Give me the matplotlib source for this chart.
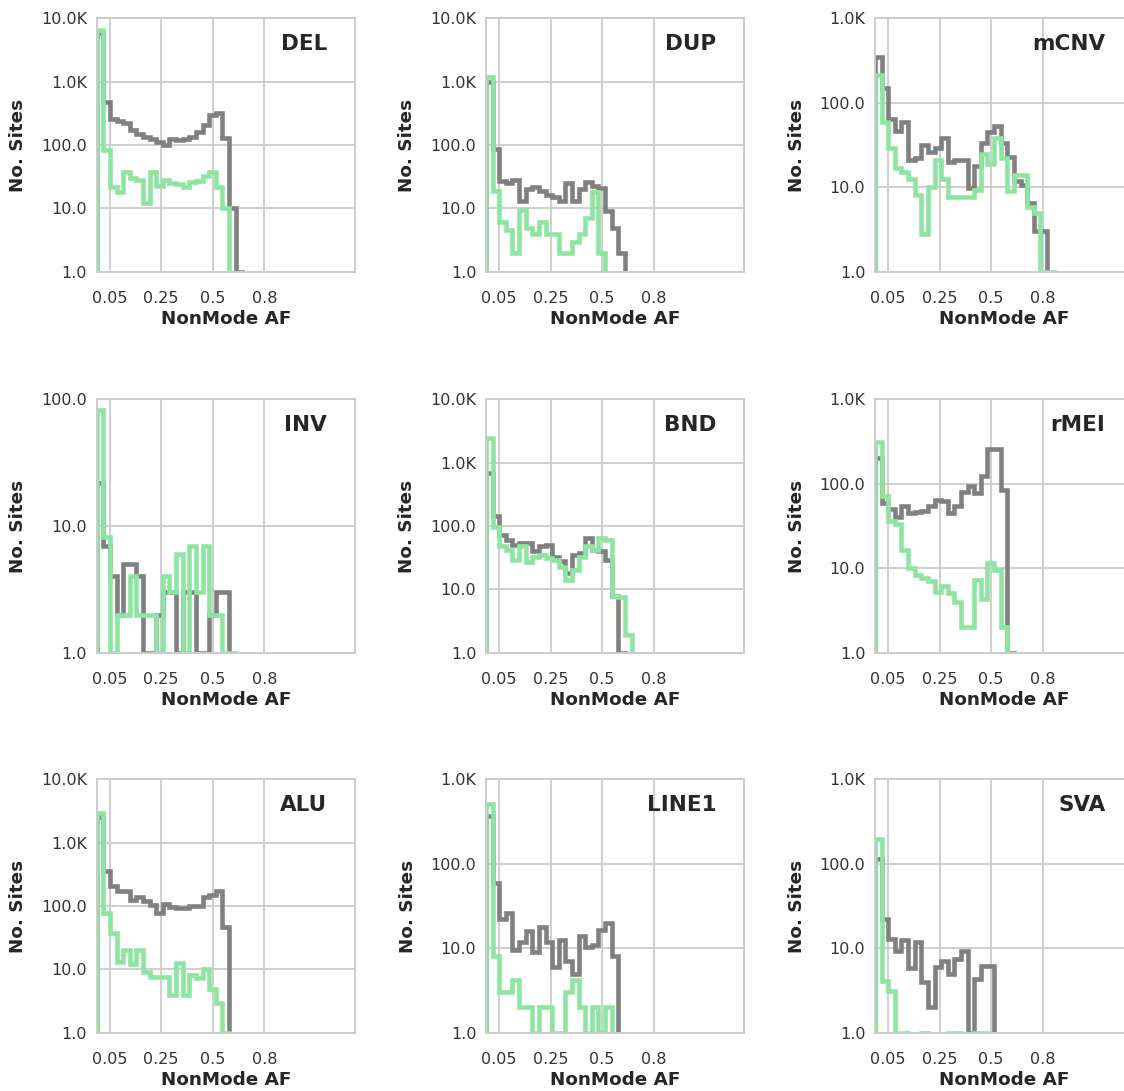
import numpy as np
import matplotlib
matplotlib.use('Agg')
import matplotlib.pyplot as plt
from matplotlib.ticker import FuncFormatter, LogLocator, NullLocator

# bin counts per SV class (bins of 1/39 from 0 to 1)
# grey = all sites, green = second call set
del_grey = [5800, 480, 260, 240, 220, 170, 150, 135, 125, 110, 100, 124, 122, 125, 135, 162, 207, 300, 315, 128, 10, 1]
del_green = [6600, 83, 22, 18, 38, 30, 28, 12, 38, 23, 28, 25, 24, 22, 26, 27, 32, 38, 22, 10]

dup_grey = [1000, 88, 27, 25, 28, 13, 20, 22, 19, 16, 15, 13, 25, 13, 20, 26, 23, 21, 9, 5, 2]
dup_green = [1200, 19, 6, 4.5, 2, 9.5, 5, 4, 6, 4, 4, 2, 2, 3, 4, 7, 18, 2]

mcnv_grey = [350, 148, 65, 47, 60, 21, 22, 32, 26, 29, 38, 20, 21, 21, 9.7, 18, 33, 45, 53, 33, 23, 12, 10.6, 6.5, 3, 3]
mcnv_green = [213, 60, 29, 16.7, 15, 12.7, 8.1, 2.8, 10.2, 21, 12.7, 7.7, 7.7, 7.7, 7.7, 9.3, 25, 19, 38, 22, 9, 14, 14, 5.9, 4.9, 1, 1]

inv_grey = [22, 7, 4, 2, 5, 5, 4, 1, 1, 2, 3, 3, 1, 3, 3, 1, 1, 2, 3, 3]
inv_green = [82, 8.2, 1, 2, 2, 4, 2, 2, 2, 1, 4, 3, 6, 1, 7, 3, 7, 2, 2, 1, 1]

bnd_grey = [690, 142, 73, 60, 50, 54, 54, 40, 48, 50, 33, 28, 18, 35, 37, 64, 42, 40, 29, 8, 1]
bnd_green = [2440, 98, 48, 42, 29, 48, 27, 33, 35, 31, 29, 23, 14, 20, 33, 48, 42, 64, 60, 8, 7.7, 1.9]

rmei_grey = [200, 60, 50, 40, 55, 45, 47, 48, 55, 65, 62, 45, 55, 80, 95, 78, 125, 260, 260, 85, 1]
rmei_green = [316, 71, 36, 33, 16.6, 10, 8.4, 7.7, 7, 5.2, 6.1, 5.1, 4, 2, 2, 7.3, 4.3, 11.6, 9.6, 2]

alu_grey = [2500, 354, 204, 170, 170, 125, 140, 118, 105, 77, 108, 95, 92, 94, 100, 100, 140, 150, 170, 47]
alu_green = [2960, 77, 37, 13, 20, 12, 20, 9, 7.6, 7.6, 7.7, 4, 12.5, 4, 8.2, 7.2, 10, 5, 3, 1]

line1_grey = [370, 59, 22, 26, 9.6, 12, 16, 9, 18, 12, 6, 12.6, 7, 5, 14, 10.5, 11, 16.5, 20, 8]
line1_green = [505, 8, 3, 3, 4.2, 2, 2, 1, 2, 2, 1, 1, 3, 4.2, 2, 1, 2, 1, 2]

sva_grey = [113, 22, 13, 9.3, 12.7, 5.9, 12, 4, 2, 6, 7, 5, 7.4, 9.3, 1, 4.3, 6.2, 6.2]
sva_green = [195, 4.1, 3.1, 1, 1, 0, 0, 1, 0, 0, 0, 1, 1, 0, 0, 1, 1]

names = ['DEL', 'DUP', 'mCNV', 'INV', 'BND', 'rMEI', 'ALU', 'LINE1', 'SVA']
greys = [del_grey, dup_grey, mcnv_grey, inv_grey, bnd_grey, rmei_grey, alu_grey, line1_grey, sva_grey]
greens = [del_green, dup_green, mcnv_green, inv_green, bnd_green, rmei_green, alu_green, line1_green, sva_green]

tick_pos = [0.05, 0.25, 0.45, 0.65]
tick_labels = ['0.05', '0.25', '0.5', '0.8']

edges = np.linspace(0, 1, 40)

plt.rcParams['font.family'] = 'DejaVu Sans'
plt.rcParams['text.color'] = '#262626'
plt.rcParams['axes.labelcolor'] = '#262626'

W, H = 1124, 1091
fig = plt.figure(figsize=(W / 100, H / 100), dpi=100)

col_left = [96.7, 486, 875]
row_top = [18.3, 399.3, 779.3]
ax_w, ax_h = 258, 253.5


def fmt(v, pos):
    if v >= 1000:
        return f'{v / 1000:.1f}K'
    return f'{v:.1f}'


def draw_hist(ax, counts, color):
    vals = np.array(counts, dtype=float)
    vals = np.where(vals > 0, vals, 1e-3)
    ax.stairs(vals, edges[:len(vals) + 1], baseline=1e-3, fill=False,
              color=color, lw=3.3, joinstyle='miter')


for i, name in enumerate(names):
    r, c = divmod(i, 3)
    rect = [col_left[c] / W, 1 - (row_top[r] + ax_h) / H, ax_w / W, ax_h / H]
    ax = fig.add_axes(rect)

    draw_hist(ax, greys[i], '#808080')
    draw_hist(ax, greens[i], '#8de5a1')

    top = 10 ** np.ceil(np.log10(max(max(greys[i]), max(greens[i]))))
    ax.set_yscale('log')
    ax.set_ylim(1, top)
    ax.set_xlim(0, 1)
    ax.yaxis.set_major_locator(LogLocator(base=10, numticks=10))
    ax.yaxis.set_minor_locator(NullLocator())
    ax.yaxis.set_major_formatter(FuncFormatter(fmt))
    ax.set_xticks(tick_pos)
    ax.set_xticklabels(tick_labels)

    ax.grid(True, color='#cccccc', lw=1.3)
    ax.set_axisbelow(True)
    for sp in ax.spines.values():
        sp.set_color('#cccccc')
        sp.set_linewidth(1.4)
    ax.tick_params(axis='both', length=0, labelsize=11.5, colors='#333333')
    ax.tick_params(axis='x', pad=14)
    ax.tick_params(axis='y', pad=7)

    ax.set_xlabel('NonMode AF', fontsize=13.2, fontweight='bold', labelpad=3)
    ax.set_ylabel('No. Sites', fontsize=13.2, fontweight='bold', labelpad=10)
    ax.text(0.893, 0.874, name, transform=ax.transAxes, ha='right', va='baseline',
            fontsize=15.5, fontweight='bold', color='#262626')

fig.savefig('out.png', dpi=100)
